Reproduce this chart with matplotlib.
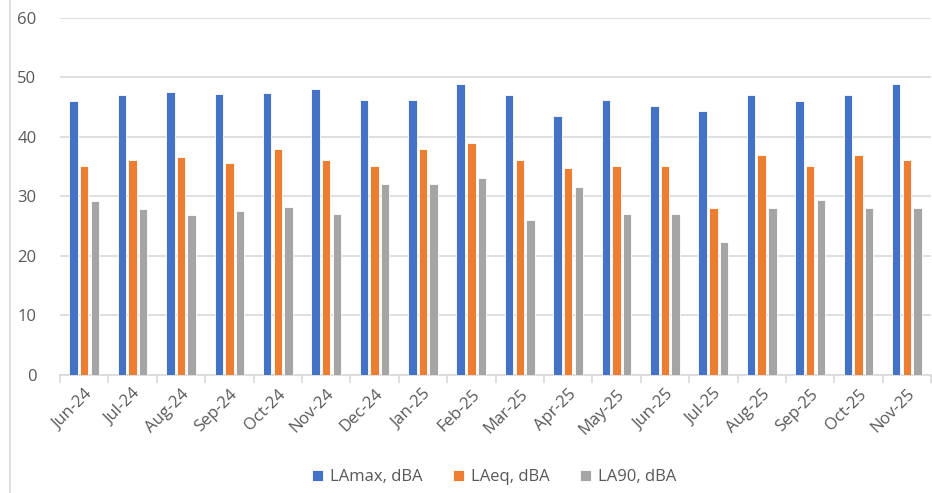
import numpy as np
import matplotlib.pyplot as plt
from matplotlib.lines import Line2D

# Données mensuelles (dBA)
mois = ["Jun-24", "Jul-24", "Aug-24", "Sep-24", "Oct-24", "Nov-24", "Dec-24",
        "Jan-25", "Feb-25", "Mar-25", "Apr-25", "May-25", "Jun-25", "Jul-25",
        "Aug-25", "Sep-25", "Oct-25", "Nov-25"]
lamax = [46.0, 47.0, 47.5, 47.2, 47.3, 48.0, 46.1, 46.1, 48.9, 47.0,
         43.5, 46.1, 45.1, 44.3, 47.0, 46.0, 47.0, 48.9]
laeq = [35.0, 36.0, 36.6, 35.6, 37.9, 36.0, 35.0, 38.0, 39.0, 36.0,
        34.8, 35.0, 35.0, 28.0, 37.0, 35.1, 37.0, 36.0]
la90 = [29.2, 27.9, 26.9, 27.5, 28.2, 27.0, 32.0, 32.0, 33.0, 26.0,
        31.5, 27.0, 27.0, 22.4, 28.0, 29.3, 28.0, 28.0]

series = [("LAmax, dBA", lamax, "#4472C4"),
          ("LAeq, dBA", laeq, "#ED7D31"),
          ("LA90, dBA", la90, "#A5A5A5")]

plt.rcParams['font.family'] = ['Open Sans', 'DejaVu Sans']
gris_texte = "#595959"

fig = plt.figure(figsize=(9.32, 4.93), dpi=100)
ax = fig.add_axes([0.0644, 0.2394, 0.9346, 0.7251])

x = np.arange(len(mois))
largeur = 0.175
pas = 0.22
for i, (nom, vals, couleur) in enumerate(series):
    ax.bar(x + (i - 1) * pas, vals, width=largeur, color=couleur,
           edgecolor="white", linewidth=0.6, label=nom, zorder=3)

ax.set_xlim(-0.5, len(mois) - 0.5)
ax.set_ylim(0, 60)
ax.set_yticks(range(0, 61, 10))
ax.grid(axis="y", color="#D9D9D9", linewidth=1.2, zorder=0)
ax.tick_params(axis="y", length=0, pad=17, labelsize=12, labelcolor=gris_texte)

# ticks entre catégories, étiquettes au centre
ax.set_xticks(np.arange(len(mois) + 1) - 0.5)
ax.set_xticklabels([])
ax.tick_params(axis="x", which="major", length=6, color="#D9D9D9", width=1.2)
ax.set_xticks(x, minor=True)
ax.set_xticklabels(mois, minor=True, rotation=45, ha="right",
                   rotation_mode="anchor", fontsize=12, color=gris_texte)
ax.tick_params(axis="x", which="minor", length=0, pad=8)

for cote in ["top", "right", "left"]:
    ax.spines[cote].set_visible(False)
ax.spines["bottom"].set_color("#D9D9D9")
ax.spines["bottom"].set_linewidth(1.2)

# bordure gauche du cadre
fig.add_artist(Line2D([10 / 932, 10 / 932], [0, 1], color="#D9D9D9",
                      linewidth=1.2, transform=fig.transFigure))

leg = fig.legend(loc="center", bbox_to_anchor=(0.53, 0.032), ncol=3,
                 frameon=False, fontsize=12, handlelength=0.7,
                 handleheight=0.7, handletextpad=0.4, columnspacing=1.8)
for t in leg.get_texts():
    t.set_color(gris_texte)

fig.savefig("out.png", dpi=100)
